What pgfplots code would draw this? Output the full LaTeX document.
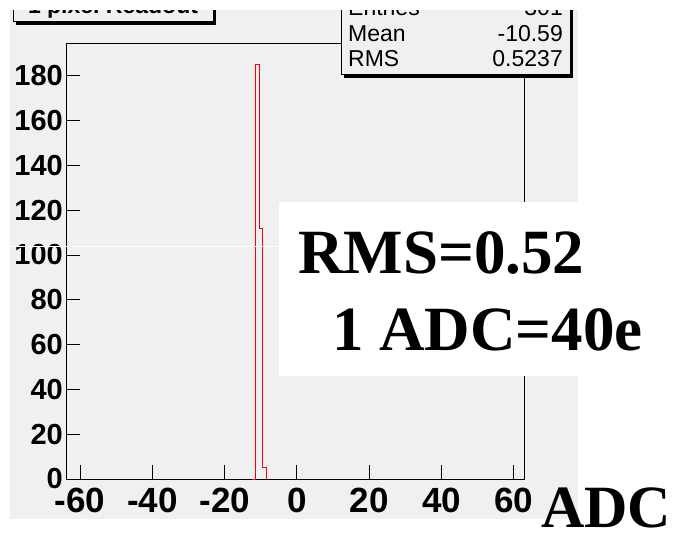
\documentclass[border=0pt]{standalone}
\usepackage{pgfplots}
\pgfplotsset{compat=1.18}
\usepackage{fontspec}
\setmainfont{Liberation Sans}
\newfontfamily\serif{Liberation Serif}
\definecolor{rootgray}{HTML}{F0F0F0}

\begin{document}
\begin{tikzpicture}[x=1bp,y=-1bp]
\useasboundingbox (0,0) rectangle (678,533);
\fill[white] (0,0) rectangle (678,533);
% pad
\fill[rootgray] (10,10) rectangle (578,519);

\begin{axis}[
  at={(66bp,-479bp)}, anchor=south west,
  scale only axis, width=458bp, height=435bp,
  xmin=-63.9, xmax=62.8, ymin=0, ymax=194.2,
  xtick={-60,-40,...,60}, ytick={0,20,...,180},
  tick align=inside, xtick pos=bottom, ytick pos=left,
  major tick length=14bp,
  axis line style={black, line width=1bp},
  every tick/.style={black, line width=1bp},
  /pgf/number format/assume math mode=true,
  xticklabel style={font=\fontsize{35bp}{36bp}\selectfont\bfseries, inner sep=0pt, yshift=-9bp},
  yticklabel style={font=\fontsize{29bp}{30bp}\selectfont\bfseries, inner sep=0pt, xshift=-3bp},
]
\addplot[red, line width=1bp, const plot]
  coordinates {(-12.5,0) (-11.5,185) (-10.5,112) (-9.5,5) (-8.5,0)};
\end{axis}

% title box
\fill[black] (16,-5) rectangle (216,25);
\filldraw[fill=rootgray, draw=black, line width=1bp] (13,-5) rectangle (213,22);
\node[anchor=base, inner sep=0pt, font=\fontsize{23bp}{24bp}\selectfont\bfseries] at (113,14) {1 pixel Readout};

% stats box
\fill[black] (344,-5) rectangle (573,78);
\filldraw[fill=rootgray, draw=black, line width=1bp] (341,-5) rectangle (570,75);
\begin{scope}[every node/.style={inner sep=0pt, font=\fontsize{23bp}{24bp}\selectfont}]
\node[anchor=base west] at (348,16) {Entries};
\node[anchor=base east] at (563,16) {301};
\node[anchor=base west] at (348,42) {Mean};
\node[anchor=base east] at (563,42) {-10.59};
\node[anchor=base west] at (348,67) {RMS};
\node[anchor=base east] at (563,67) {0.5237};
\end{scope}

% annotation
\fill[white] (279,202) rectangle (578,376);
\begin{scope}[every node/.style={inner sep=0pt, font=\serif\bfseries\fontsize{63bp}{66bp}\selectfont}]
\node[anchor=base west] at (298,273) {RMS=0.52};
\node[anchor=base west] at (332,350) {1 ADC=40e};
\node[anchor=base west, font=\serif\bfseries\fontsize{60bp}{62bp}\selectfont] at (541,527) {ADC};
\end{scope}

\draw[white, line width=1bp] (0,247) -- (279,247);
\fill[white] (0,0) rectangle (678,10);
\end{tikzpicture}
\end{document}
